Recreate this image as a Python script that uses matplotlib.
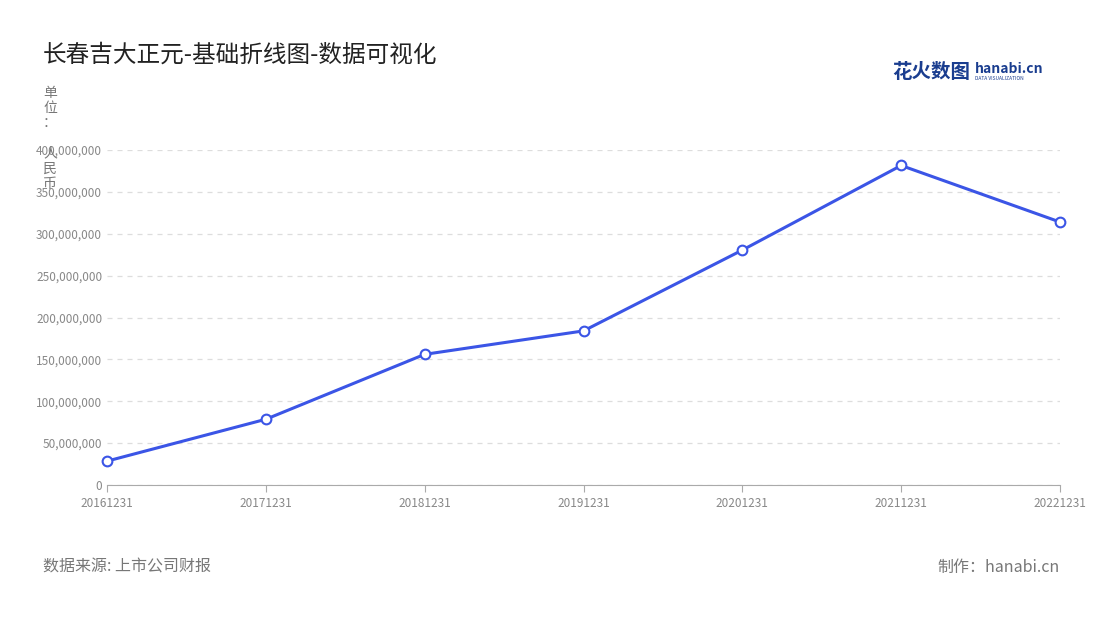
import matplotlib.pyplot as plt
from matplotlib.ticker import FuncFormatter

plt.rcParams['font.family'] = ['Noto Sans CJK SC', 'DejaVu Sans']

dates = ['20161231', '20171231', '20181231', '20191231', '20201231', '20211231', '20221231']
revenue = [28.5e6, 78.5e6, 156e6, 184e6, 280.5e6, 381.5e6, 314e6]

fig = plt.figure(figsize=(11, 6.2), dpi=100)
ax = fig.add_axes([107 / 1100, 1 - 485 / 620, 953 / 1100, 335 / 620])

x = range(len(dates))
ax.plot(x, revenue, color='#3b55e6', linewidth=2.2, marker='o', markersize=7,
        markerfacecolor='white', markeredgecolor='#3b55e6', markeredgewidth=1.5,
        zorder=3, clip_on=False)

ax.set_xlim(0, len(dates) - 1)
ax.set_ylim(0, 400e6)
ax.set_yticks([i * 50e6 for i in range(9)])
ax.yaxis.set_major_formatter(FuncFormatter(lambda v, _: f'{v:,.0f}'))
ax.set_xticks(list(x))
ax.set_xticklabels(dates)
ax.tick_params(axis='both', labelsize=8.5, colors='#888888', length=0)
ax.tick_params(axis='x', length=5, color='#aaaaaa')
ax.grid(axis='y', linestyle=(0, (4, 4)), color='#dddddd', linewidth=0.9)
for s in ['top', 'right', 'left']:
    ax.spines[s].set_visible(False)
ax.spines['bottom'].set_color('#aaaaaa')

fig.text(43 / 1100, 1 - 55 / 620, '长春吉大正元-基础折线图-数据可视化', fontsize=17,
         color='#222222', va='center')
# unit label, stacked vertically as in the reference
fig.text(50 / 1100, 1 - 86 / 620, '单\n位\n：\n\n人\n民\n币', fontsize=10, color='#777777',
         va='top', ha='center', linespacing=1.1)
fig.text(43 / 1100, 1 - 567 / 620, '数据来源: 上市公司财报', fontsize=11.5, color='#777777', va='center')
fig.text(1060 / 1100, 1 - 567 / 620, '制作：hanabi.cn', fontsize=11.5, color='#777777',
         va='center', ha='right')
fig.text(892 / 1100, 1 - 72 / 620, '花火数图', fontsize=14, color='#1a3d8f', va='center',
         fontweight='bold')
fig.text(975 / 1100, 1 - 69 / 620, 'hanabi.cn', fontsize=10, color='#1a3d8f', va='center',
         fontweight='bold')
fig.text(975 / 1100, 1 - 79 / 620, 'DATA VISUALIZATION', fontsize=3.5, color='#1a3d8f', va='center')

fig.savefig('out.png', dpi=100)
